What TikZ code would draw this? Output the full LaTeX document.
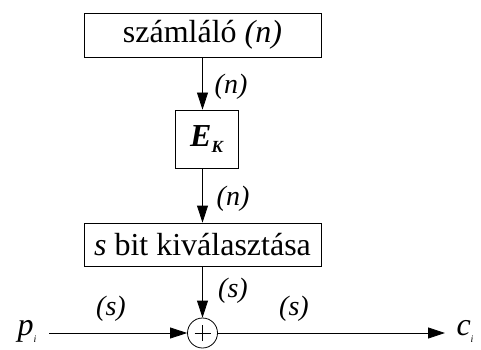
\documentclass[tikz,border=0pt]{standalone}
\usepackage{fontspec}
\setmainfont{Liberation Serif}
\usetikzlibrary{arrows.meta}
\begin{document}
\begin{tikzpicture}[x=1pt,y=-1pt,
  box/.style={draw,line width=0.8pt,inner sep=0pt,font=\fontsize{32}{36}\selectfont},
  arr/.style={line width=0.8pt,-{Triangle[length=17pt,width=11pt]}},
  lab/.style={font=\fontsize{28}{32}\selectfont\itshape,inner sep=0pt}]
\useasboundingbox (0,0) rectangle (481,350);
\node[box,minimum width=237pt,minimum height=44pt] (cnt) at (202.5,35) {számláló \textit{(n)}};
\node[box,minimum width=63pt,minimum height=58pt] (ek) at (206.5,139) {\textbf{\textit{E}}\raisebox{-6pt}{\fontsize{17}{19}\selectfont\bfseries\itshape K}};
\node[box,minimum width=237pt,minimum height=43pt] (sel) at (202.5,244.5) {\textit{s} bit kiválasztása};
\node[draw,circle,line width=0.8pt,minimum size=30pt,inner sep=0pt] (xor) at (202.5,333) {};
\draw[line width=0.8pt] ([yshift=-8pt]xor.center) -- ([yshift=8pt]xor.center)
  ([xshift=-8pt]xor.center) -- ([xshift=8pt]xor.center);
\node[font=\fontsize{32}{36}\selectfont\itshape,inner sep=0pt] (p) at (27,331) {p\raisebox{-7pt}{\fontsize{10}{12}\selectfont i}};
\node[font=\fontsize{32}{36}\selectfont\itshape,inner sep=0pt] (c) at (465,331) {c\raisebox{-7pt}{\fontsize{10}{12}\selectfont i}};
\coordinate (pe) at (49,333);
\coordinate (ce) at (445,333);
\draw[arr] (cnt.south -| xor) -- (ek.north -| xor);
\draw[arr] (ek.south -| xor) -- (sel.north -| xor);
\draw[arr] (sel.south -| xor) -- (xor.north);
\draw[arr] (pe) -- (xor.west);
\draw[arr] (xor.east) -- (ce);
\node[lab] (l1) at (231,87) {(n)};
\node[lab] (l2) at (233,199) {(n)};
\node[lab] (l3) at (233,291) {(s)};
\node[lab] (l4) at (111,309) {(s)};
\node[lab] (l5) at (294,309) {(s)};
\end{tikzpicture}
\end{document}
